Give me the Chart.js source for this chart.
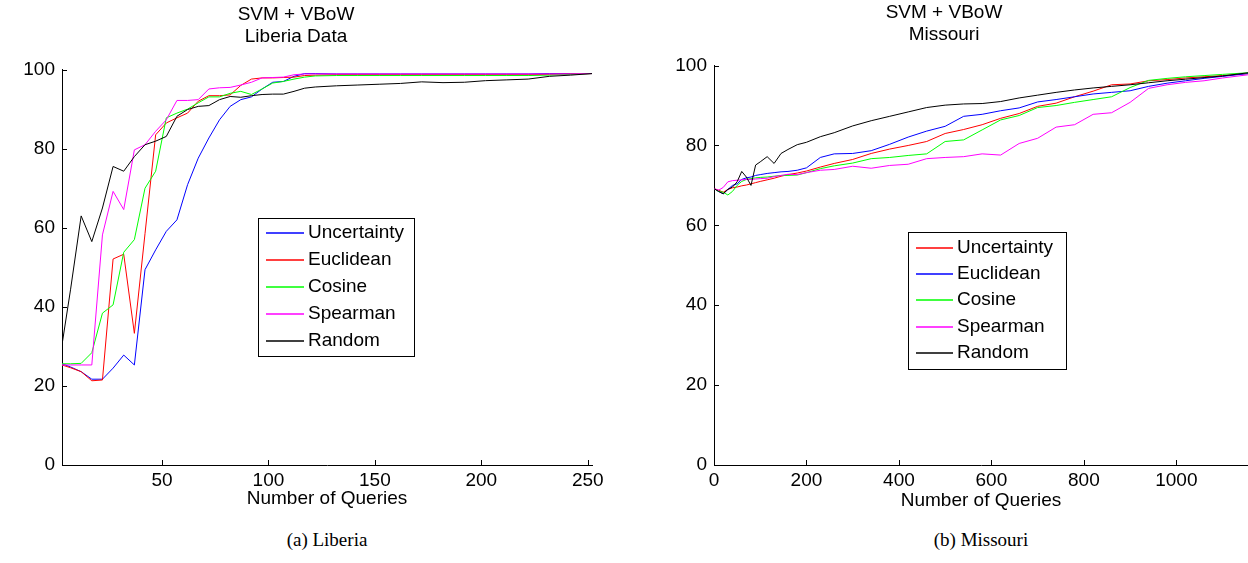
<!DOCTYPE html>
<html>
<head>
<meta charset="utf-8">
<script src="https://cdn.jsdelivr.net/npm/chart.js@4.4.0/dist/chart.umd.min.js"></script>
<style>
html, body { margin: 0; padding: 0; background: #fff; width: 1248px; height: 563px; overflow: hidden; }
.box { position: absolute; top: 0; height: 520px; }
.cap { position: absolute; top: 529px; font-family: "Liberation Serif", "DejaVu Serif", serif; font-size: 19px; transform: translateX(-50%); white-space: nowrap; color: #000; }
</style>
</head>
<body>
<div class="box" style="left:0;width:654px"><canvas id="libChart"></canvas></div>
<div class="box" style="left:640px;width:682px"><canvas id="misChart"></canvas></div>
<div class="cap" style="left:327px">(a) Liberia</div>
<div class="cap" style="left:981px">(b) Missouri</div>
<script>
// ---- (a) Liberia ----
var libQueries = [3, 7, 12, 17, 22, 27, 32, 37, 42, 47, 52, 57, 62, 67, 72, 77, 82, 87, 92, 97,
    102, 107, 112, 117, 122, 132, 142, 152, 162, 172, 182, 192, 202, 212, 222, 232, 242, 252];
var libUncertainty = [25.6, 24.8, 23.6, 21.7, 21.7, 24.5, 27.8, 25.3, 49.4, 54.4,
    59.1, 62.0, 70.9, 77.6, 82.7, 87.3, 90.7, 92.4, 93.1, 95.1,
    96.8, 97.0, 98.3, 99.0, 99.0, 98.9, 98.9, 98.9, 98.9, 98.9,
    98.9, 98.9, 98.9, 98.9, 98.9, 99.0, 99.0, 99.0];
var libEuclidean = [25.3, 24.6, 23.6, 21.3, 21.5, 52.1, 53.3, 33.3, 58.5, 83.5,
    86.5, 87.8, 89.0, 92.0, 93.4, 93.4, 93.6, 96.0, 97.6, 97.9,
    97.9, 98.0, 98.1, 98.5, 98.6, 98.7, 98.7, 98.7, 98.7, 98.7,
    98.7, 98.7, 98.7, 98.7, 98.7, 98.8, 98.9, 99.0];
var libCosine = [25.6, 25.6, 25.7, 28.4, 38.4, 40.5, 53.8, 57.0, 70.0, 74.3,
    87.8, 89.0, 90.0, 91.6, 93.1, 93.1, 94.0, 94.5, 93.7, 95.1,
    96.6, 97.0, 97.6, 98.1, 98.4, 98.5, 98.5, 98.5, 98.5, 98.5,
    98.5, 98.5, 98.5, 98.5, 98.5, 98.6, 98.8, 99.0];
var libSpearman = [25.3, 25.3, 25.3, 25.3, 58.2, 69.2, 64.6, 79.7, 81.0, 84.4,
    87.3, 92.2, 92.2, 92.4, 95.1, 95.4, 95.5, 96.1, 96.8, 97.9,
    98.0, 98.1, 98.7, 98.9, 98.9, 98.9, 98.9, 98.9, 98.9, 98.9,
    98.9, 98.9, 98.9, 98.9, 98.9, 98.9, 98.9, 99.0];
var libRandom = [30.4, 44.3, 63.0, 56.5, 65.0, 75.5, 74.3, 78.0, 81.0, 81.9,
    83.1, 88.2, 89.9, 90.7, 90.9, 92.4, 93.2, 93.0, 93.4, 93.7,
    93.8, 93.8, 94.5, 95.3, 95.6, 95.9, 96.1, 96.3, 96.5, 96.9,
    96.7, 96.8, 97.2, 97.4, 97.6, 98.3, 98.6, 99.0];
var libTicksX = [50, 100, 150, 200, 250];

// ---- (b) Missouri ----
var misQueries = [0, 10, 20, 30, 40, 50, 60, 70, 80, 90, 100, 115, 130, 145, 160, 180, 200, 230, 260,
    300, 340, 380, 420, 460, 500, 540, 580, 620, 660, 700, 740, 780, 820, 860, 900, 940, 980,
    1020, 1060, 1100, 1155];
var misUncertainty = [69.2, 68.8, 68.3, 69.0, 69.4, 69.6, 69.9, 70.1, 70.4, 70.7, 71.0,
    71.4, 71.8, 72.3, 72.7, 73.1, 73.6, 74.6, 75.5,
    76.5, 78.0, 79.1, 80.0, 81.0, 83.0, 84.0, 85.2, 86.8, 88.0, 89.8, 90.6, 92.2, 93.6, 95.2, 95.4, 96.2, 96.5,
    96.9, 97.2, 97.5, 98.0];
var misEuclidean = [69.2, 68.5, 67.9, 69.0, 70.0, 70.4, 71.5, 71.9, 72.1, 72.5, 72.7,
    73.0, 73.2, 73.4, 73.5, 73.8, 74.4, 77.0, 77.9,
    78.0, 78.7, 80.3, 82.1, 83.6, 84.8, 87.3, 87.8, 88.7, 89.4, 90.9, 91.5, 92.2, 92.9, 93.3, 93.7, 94.8, 95.6,
    96.2, 96.8, 97.3, 98.0];
var misCosine = [69.2, 68.5, 68.3, 67.6, 68.5, 70.0, 71.0, 71.5, 71.7, 71.9, 72.0,
    72.1, 72.3, 72.5, 72.5, 72.6, 73.2, 74.2, 74.9,
    75.6, 76.7, 77.0, 77.5, 77.9, 81.0, 81.4, 83.9, 86.4, 87.5, 89.5, 90.0, 90.8, 91.5, 92.2, 94.5, 96.3, 96.8,
    97.2, 97.5, 97.8, 98.2];
var misSpearman = [69.2, 68.8, 69.5, 70.9, 71.2, 71.3, 71.4, 71.5, 71.5, 71.6, 71.7,
    71.8, 72.2, 72.5, 72.8, 72.7, 73.2, 73.8, 74.0,
    74.8, 74.3, 75.0, 75.3, 76.7, 77.0, 77.2, 77.9, 77.6, 80.5, 81.8, 84.6, 85.2, 87.8, 88.2, 90.8, 94.3, 95.2,
    95.8, 96.2, 96.9, 97.7];
var misRandom = [69.2, 68.5, 67.9, 69.0, 69.6, 70.9, 73.5, 72.1, 70.0, 75.1, 75.9,
    77.2, 75.5, 78.0, 79.0, 80.2, 80.8, 82.2, 83.2,
    84.9, 86.2, 87.3, 88.4, 89.5, 90.1, 90.4, 90.5, 91.0, 91.9, 92.6, 93.3, 93.9, 94.4, 94.8, 95.2, 95.7, 96.2,
    96.6, 97.0, 97.4, 98.2];
var misTicksX = [0, 200, 400, 600, 800, 1000];

var yTicks = [0, 20, 40, 60, 80, 100];

Chart.defaults.font.family = '"Liberation Sans", Arial, Helvetica, sans-serif';
Chart.defaults.color = '#000';

// MATLAB style ticks pointing into the axes
var tickMarks = {
    id: 'tickMarks',
    afterDraw: function (chart) {
        var ctx = chart.ctx, a = chart.chartArea;
        var sx = chart.scales.x, sy = chart.scales.y;
        ctx.save();
        ctx.strokeStyle = '#000';
        ctx.lineWidth = 1;
        ctx.beginPath();
        sx.ticks.forEach(function (t) {
            var p = Math.round(sx.getPixelForValue(t.value)) + 0.5;
            ctx.moveTo(p, a.bottom);
            ctx.lineTo(p, a.bottom - 5);
        });
        sy.ticks.forEach(function (t) {
            var p = Math.round(sy.getPixelForValue(t.value)) + 0.5;
            ctx.moveTo(a.left, p);
            ctx.lineTo(a.left + 5, p);
        });
        ctx.stroke();
        ctx.restore();
    }
};

// legend box drawn inside the axes, entries taken from the datasets
var boxLegend = {
    id: 'boxLegend',
    afterDatasetsDraw: function (chart, args, o) {
        var ctx = chart.ctx, a = chart.chartArea;
        var x0 = Math.round(a.left + o.dx), y0 = Math.round(a.top + o.dy);
        ctx.save();
        ctx.fillStyle = '#fff';
        ctx.fillRect(x0, y0, o.w, o.h);
        ctx.strokeStyle = '#000';
        ctx.lineWidth = 1;
        ctx.strokeRect(x0 + 0.5, y0 + 0.5, o.w, o.h);
        ctx.font = '19px "Liberation Sans", Arial, sans-serif';
        ctx.textBaseline = 'middle';
        chart.data.datasets.forEach(function (d, i) {
            var y = Math.round(y0 + o.first + i * o.row);
            ctx.strokeStyle = d.borderColor;
            ctx.lineWidth = 1.4;
            ctx.beginPath();
            ctx.moveTo(x0 + 8, y);
            ctx.lineTo(x0 + o.lineEnd, y);
            ctx.stroke();
            ctx.fillStyle = '#000';
            ctx.fillText(d.label, x0 + o.textX, y);
        });
        ctx.restore();
    }
};

function renderChart(id, xs, series, opt) {
    var datasets = series.map(function (s, i) {
        return {
            label: s.label,
            data: xs.map(function (x, j) { return {x: x, y: s.values[j]}; }),
            borderColor: s.color,
            borderWidth: 1,
            pointRadius: 0,
            tension: 0,
            order: series.length - i
        };
    });

    return new Chart(document.getElementById(id), {
        type: 'line',
        data: {datasets: datasets},
        options: {
            responsive: true,
            maintainAspectRatio: false,
            animation: false,
            events: [],
            layout: {padding: {left: 0, right: opt.padRight, top: 0, bottom: 0}, autoPadding: false},
            plugins: {
                legend: {display: false},
                tooltip: {enabled: false},
                title: {
                    display: true,
                    text: opt.title,
                    color: '#000',
                    font: {size: 19, weight: 'normal', lineHeight: 1.2},
                    padding: {top: opt.titleTop, bottom: opt.titleBottom}
                },
                boxLegend: opt.legend
            },
            scales: {
                x: {
                    type: 'linear',
                    min: opt.xMin,
                    max: opt.xMax,
                    afterBuildTicks: function (s) { s.ticks = opt.xTicks.map(function (v) { return {value: v}; }); },
                    afterFit: function (s) { s.height = 55; },
                    grid: {display: false, drawTicks: false},
                    border: {display: true, color: '#000', width: 1},
                    ticks: {
                        font: {size: 19}, color: '#000', padding: 4, maxRotation: 0, autoSkip: false,
                        callback: function (v) { return String(v); }
                    },
                    title: {display: true, text: 'Number of Queries', color: '#000', font: {size: 19}, padding: {top: 0, bottom: opt.xTitlePad}}
                },
                y: {
                    min: 0,
                    max: 100,
                    afterBuildTicks: function (s) { s.ticks = yTicks.map(function (v) { return {value: v}; }); },
                    afterFit: function (s) { s.width = opt.yWidth; },
                    grid: {display: false, drawTicks: false},
                    border: {display: true, color: '#000', width: 1},
                    ticks: {font: {size: 19}, color: '#000', padding: 7, callback: function (v) { return String(v); }}
                }
            }
        },
        plugins: [tickMarks, boxLegend]
    });
}

renderChart('libChart', libQueries, [
    {label: 'Uncertainty', color: '#0000ff', values: libUncertainty},
    {label: 'Euclidean', color: '#ff0000', values: libEuclidean},
    {label: 'Cosine', color: '#00ff00', values: libCosine},
    {label: 'Spearman', color: '#ff00ff', values: libSpearman},
    {label: 'Random', color: '#000000', values: libRandom}
], {
    title: ['SVM + VBoW', 'Liberia Data'],
    titleTop: 3, titleBottom: 21,
    padRight: 62, yWidth: 62,
    xMin: 3, xMax: 252, xTicks: libTicksX, xTitlePad: 10,
    legend: {dx: 196, dy: 148, w: 156, h: 138, first: 15, row: 27, lineEnd: 46, textX: 50}
});

renderChart('misChart', misQueries, [
    {label: 'Uncertainty', color: '#ff0000', values: misUncertainty},
    {label: 'Euclidean', color: '#0000ff', values: misEuclidean},
    {label: 'Cosine', color: '#00ff00', values: misCosine},
    {label: 'Spearman', color: '#ff00ff', values: misSpearman},
    {label: 'Random', color: '#000000', values: misRandom}
], {
    title: ['SVM + VBoW', 'Missouri'],
    titleTop: 1, titleBottom: 19,
    padRight: 74, yWidth: 74,
    xMin: 0, xMax: 1155, xTicks: misTicksX, xTitlePad: 8,
    legend: {dx: 194, dy: 166, w: 158, h: 137, first: 16, row: 26.2, lineEnd: 45, textX: 49}
});
</script>
</body>
</html>
